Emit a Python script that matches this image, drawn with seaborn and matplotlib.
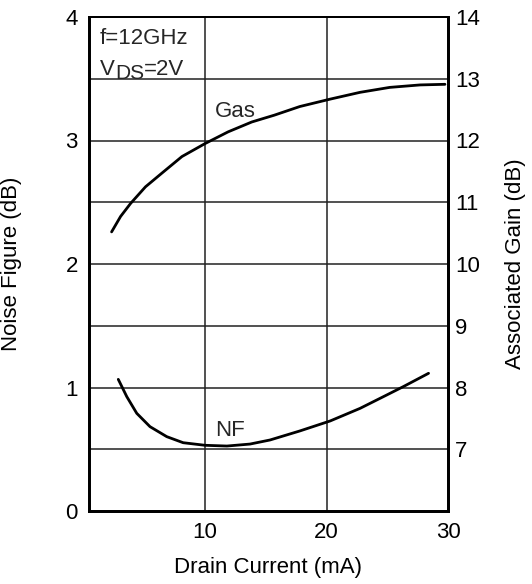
import numpy as np
import pandas as pd
import matplotlib
matplotlib.use("Agg")
import matplotlib.pyplot as plt
import seaborn as sns

# values (drain current in mA)
nf_current = [2.86, 3.56, 4.38, 5.47, 6.85, 8.2, 10.0, 11.8, 13.7, 15.35, 17.8, 20.3, 22.76, 24.95, 26.3, 28.4]
nf_db = [1.066, 0.926, 0.791, 0.683, 0.602, 0.553, 0.532, 0.526, 0.542, 0.575, 0.648, 0.729, 0.831, 0.939, 1.006, 1.115]

gas_current = [2.31, 3.05, 3.87, 5.1, 6.44, 8.1, 10.0, 11.9, 13.85, 15.7, 17.8, 20.3, 22.76, 25.2, 27.7, 29.75]
gas_db = [10.52, 10.77, 10.98, 11.25, 11.47, 11.74, 11.95, 12.14, 12.30, 12.41, 12.55, 12.67, 12.78, 12.86, 12.90, 12.91]

nf_ticks = [0, 1, 2, 3, 4]
gain_ticks = [7, 8, 9, 10, 11, 12, 13, 14]
x_ticks = [10, 20, 30]

FS = 16

sns.set_theme(style="white")
plt.rcParams["font.family"] = ["Liberation Sans", "DejaVu Sans"]
plt.rcParams["font.size"] = FS

fig = plt.figure(figsize=(5.32, 5.84), dpi=100)
ax = fig.add_axes([89 / 532, 1 - 511 / 584, 359 / 532, 494 / 584])
ax2 = ax.twinx()

nf = pd.DataFrame({"current": nf_current, "nf": nf_db})
gas = pd.DataFrame({"current": gas_current, "gain": gas_db})

# grid
for y in np.arange(0.5, 4.0, 0.5):
    ax.axhline(y, color="#222222", lw=1.1, zorder=1)
for x in x_ticks[:-1]:
    ax.axvline(x, color="#222222", lw=1.1, zorder=1)

sns.lineplot(data=nf, x="current", y="nf", ax=ax, color="black", lw=2.0, zorder=3)
sns.lineplot(data=gas, x="current", y="gain", ax=ax2, color="black", lw=2.0, zorder=3)

ax.set_xlim(0.45, 30)
ax.set_ylim(0, 4)
ax2.set_ylim(6, 14)
ax.set_xticks(x_ticks)
ax.set_yticks(nf_ticks)
ax2.set_yticks(gain_ticks)
ax.tick_params(axis="x", length=0, pad=8, labelsize=FS, colors="black")
ax.tick_params(axis="y", length=0, pad=8, labelsize=FS, colors="black")
ax2.tick_params(axis="y", length=0, pad=5, labelsize=FS, colors="black")

ax.set_xlabel("Drain Current (mA)", fontsize=FS, color="black")
ax.set_ylabel("Noise Figure (dB)", fontsize=FS, color="black")
ax2.set_ylabel("Associated Gain (dB)", fontsize=FS, color="black")
ax.xaxis.set_label_coords(0.5, -0.093)
ax.yaxis.set_label_coords(-0.187, 0.5)
ax2.yaxis.set_label_coords(1.159, 0.5)

for a in (ax, ax2):
    for side, sp in a.spines.items():
        sp.set_color("black")
        sp.set_linewidth(1.4 if side == "top" else 2.0)

ax.text(1.36, 3.78, "f=12GHz", fontsize=FS, va="baseline", ha="left")
ax.text(10.8, 3.19, "Gas", fontsize=FS, va="baseline", ha="left")
ax.text(10.8, 0.61, "NF", fontsize=FS, va="baseline", ha="left")

# V with a lowered DS subscript, then =2V
renderer = fig.canvas.get_renderer()
tv = ax.text(1.36, 3.53, "V", fontsize=FS, va="baseline", ha="left")
wv = tv.get_window_extent(renderer).width
tds = ax.annotate("DS", xy=(1.36, 3.53), xytext=(wv, -4), textcoords="offset pixels",
                  fontsize=FS - 1, va="baseline", ha="left")
wds = tds.get_window_extent(renderer).width
ax.annotate("=2V", xy=(1.36, 3.53), xytext=(wv + wds, 0), textcoords="offset pixels",
            fontsize=FS, va="baseline", ha="left")

fig.savefig("out.png", dpi=100)
